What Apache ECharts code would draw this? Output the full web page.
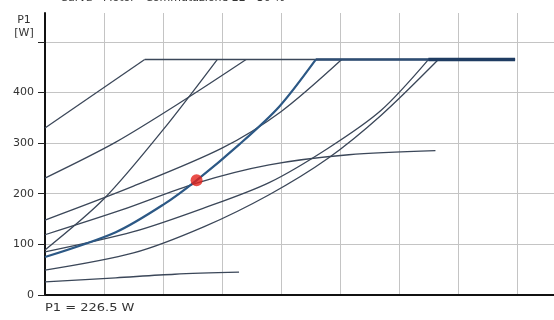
<!DOCTYPE html>
<html>
<head>
<meta charset="utf-8">
<script src="https://cdn.jsdelivr.net/npm/echarts@6/dist/echarts.min.js"></script>
<style>
  html, body { margin: 0; padding: 0; background: #fff; }
  #chart { width: 554px; height: 320px; }
</style>
</head>
<body>
<div id="chart"></div>
<script>
// Flow (x) vs. input power P1 in W (y) for each regulation curve
const curveA = [[0, 330], [1.69, 465]];
const curveB = [[0, 231], [1.2, 302], [2.4, 388], [3.41, 465]];
const curveC = [[0, 89], [1.0, 190], [2.0, 326], [2.92, 465]];
const curveD = [[0, 148], [1.5, 215], [3.0, 290], [4.0, 362], [5.03, 465]];
const curveE = [[0, 119], [1.3, 168], [2.57, 221], [3.80, 257], [5.15, 277], [6.62, 285]];
const curveG = [[0, 85], [1.5, 125], [2.7, 172], [3.80, 222], [4.8, 290], [5.7, 365], [6.50, 465]];
const curveH = [[0, 49], [1.5, 83], [2.7, 135], [3.80, 198], [4.8, 270], [5.7, 355], [6.67, 465]];
const curveL = [[0, 26], [1.2, 34], [2.2, 41], [3.29, 45]];
// active curve, passing through the operating point
const activeCurve = [[0, 75], [1.2, 124], [2.0, 178], [2.57, 226.5], [3.3, 298], [3.97, 372], [4.59, 465]];
// power limit
const limitLine = [[1.69, 465], [7.97, 465]];
const limitLineMid = [[4.59, 465], [7.97, 465]];
const limitLineHigh = [[6.5, 465], [7.97, 465]];
// operating point
const operatingPoint = [[2.57, 226.5]];
const yTicks = [0, 100, 200, 300, 400, 500];
const yLabels = [0, 100, 200, 300, 400];
const titleText = 'Curva · Motor · Commutazione 22 - 30 %';
const yName = 'P1\n[W]';
const footer = 'P1 = ' + operatingPoint[0][1] + ' W';

const thin = { color: '#3b4759', width: 1.3 };
function curve(data) {
  return {
    type: 'line', data: data, smooth: 0.3,
    symbol: 'none', lineStyle: thin, z: 3, silent: true
  };
}

const chart = echarts.init(document.getElementById('chart'));
chart.setOption({
  animation: false,
  grid: { left: 45, right: -2, top: 13, bottom: 25 },
  xAxis: [{
    type: 'value', min: 0, max: 8.63, interval: 1,
    axisLine: { show: true, onZero: false, lineStyle: { color: '#111', width: 2 } },
    axisTick: { show: false }, axisLabel: { show: false },
    splitLine: { show: true, lineStyle: { color: '#c4c4c4', width: 1 } }
  }, {
    type: 'value', position: 'top', min: 0, max: 8.63,
    axisLine: { show: true, lineStyle: { color: '#111', width: 2 } },
    axisTick: { show: false }, axisLabel: { show: false }, splitLine: { show: false }
  }],
  yAxis: {
    type: 'value', min: 0, max: 557, interval: 100,
    axisLine: { show: true, onZero: false, lineStyle: { color: '#111', width: 2 } },
    axisTick: { show: true, length: 7, customValues: yTicks, lineStyle: { color: '#222', width: 1 } },
    axisLabel: {
      customValues: yLabels, margin: 11,
      fontFamily: 'DejaVu Sans', fontSize: 11, color: '#333'
    },
    splitLine: { show: true, lineStyle: { color: '#c4c4c4', width: 1 } }
  },
  graphic: [
    { type: 'text', x: 60, y: -7.5, z: 10, style: { text: titleText, font: '11px "DejaVu Sans"', fill: '#333' } },
    { type: 'text', x: 24, y: 14, style: { text: yName, font: '11px "DejaVu Sans"', fill: '#333', textAlign: 'center', lineHeight: 13 } },
    { type: 'text', x: 45, y: 303, scaleX: 1.3, style: { text: footer, font: '10px "DejaVu Sans"', fill: '#333' } }
  ],
  series: [
    curve(curveL), curve(curveH), curve(curveG), curve(curveE), curve(curveD),
    curve(curveC), curve(curveB), curve(curveA),
    { type: 'line', data: limitLine, symbol: 'none', lineStyle: { color: '#3b4759', width: 1.5 }, z: 3, silent: true },
    { type: 'line', data: limitLineMid, symbol: 'none', lineStyle: { color: '#2e4d73', width: 2.5 }, z: 4, silent: true },
    { type: 'line', data: limitLineHigh, symbol: 'none', lineStyle: { color: '#1f3c62', width: 3.5 }, z: 4, silent: true },
    {
      type: 'line', data: activeCurve, smooth: 0.3, symbol: 'none',
      lineStyle: { color: '#2c5885', width: 2.2 }, z: 5, silent: true
    },
    { type: 'scatter', data: operatingPoint, symbolSize: 12, itemStyle: { color: '#e5231b' }, z: 6, silent: true }
  ]
});
</script>
</body>
</html>
